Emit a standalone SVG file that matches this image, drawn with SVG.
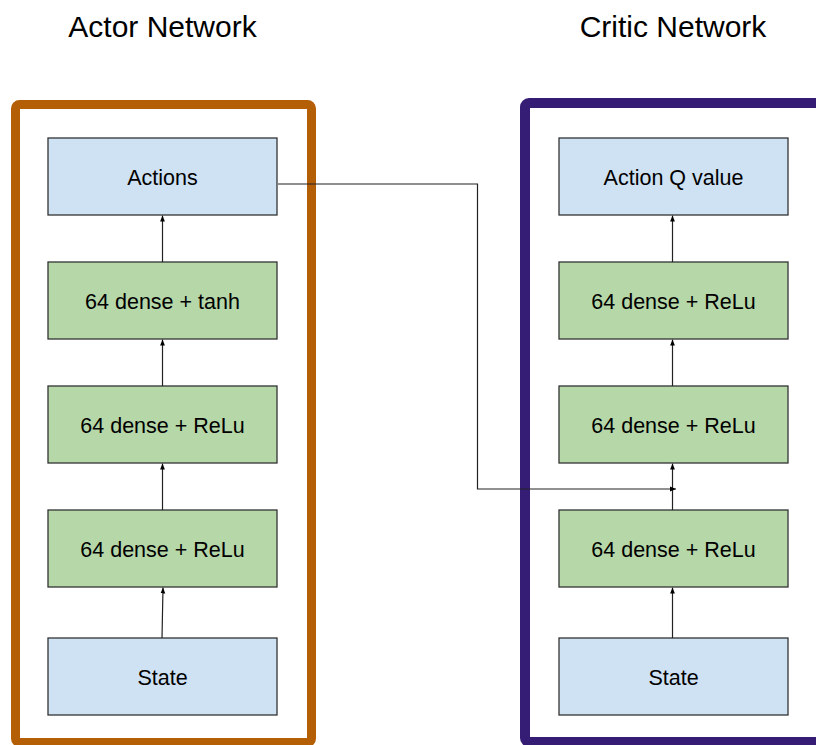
<svg xmlns="http://www.w3.org/2000/svg" width="816" height="745" viewBox="0 0 816 745">
<style>
.title{font-family:"Liberation Sans",Arial,sans-serif;font-size:30px;fill:#000;text-anchor:middle}
.lbl{font-family:"Liberation Sans",Arial,sans-serif;font-size:21.5px;fill:#000;text-anchor:middle}
.blue{fill:#cfe2f3;stroke:#333;stroke-width:1.3}
.green{fill:#b6d7a8;stroke:#333;stroke-width:1.3}
.conn{fill:none;stroke:#222;stroke-width:1.2}
</style>
<defs>
<marker id="ah" viewBox="0 0 10 10" refX="10" refY="5" markerWidth="6" markerHeight="6" markerUnits="userSpaceOnUse" orient="auto">
<path d="M0,1 L10,5 L0,9 Z" fill="#000"/>
</marker>
</defs>
<rect width="816" height="745" fill="#fff"/>
<g id="titles">
<text class="title" x="162.5" y="37">Actor Network</text>
<text class="title" x="673" y="37">Critic Network</text>
</g>
<g id="actor-frame"><rect x="15.5" y="104.5" width="296" height="638" rx="4" fill="none" stroke="#b45f06" stroke-width="9"/></g>
<g id="critic-frame"><rect x="525" y="103" width="320" height="639" rx="4" fill="none" stroke="#351c75" stroke-width="10"/></g>
<g id="a-actions"><rect class="blue" x="48" y="138" width="229" height="77"/><text class="lbl" x="162.5" y="184.5">Actions</text></g>
<g id="a-tanh"><rect class="green" x="48" y="262" width="229" height="77"/><text class="lbl" x="162.5" y="308.5">64 dense + tanh</text></g>
<g id="a-relu2"><rect class="green" x="48" y="386" width="229" height="77"/><text class="lbl" x="162.5" y="432.5">64 dense + ReLu</text></g>
<g id="a-relu1"><rect class="green" x="48" y="510" width="229" height="77"/><text class="lbl" x="162.5" y="556.5">64 dense + ReLu</text></g>
<g id="a-state"><rect class="blue" x="48" y="638" width="229" height="77"/><text class="lbl" x="162.5" y="684.5">State</text></g>
<g id="c-q"><rect class="blue" x="559" y="138" width="229" height="77"/><text class="lbl" x="673.5" y="184.5">Action Q value</text></g>
<g id="c-relu3"><rect class="green" x="559" y="262" width="229" height="77"/><text class="lbl" x="673.5" y="308.5">64 dense + ReLu</text></g>
<g id="c-relu2"><rect class="green" x="559" y="386" width="229" height="77"/><text class="lbl" x="673.5" y="432.5">64 dense + ReLu</text></g>
<g id="c-relu1"><rect class="green" x="559" y="510" width="229" height="77"/><text class="lbl" x="673.5" y="556.5">64 dense + ReLu</text></g>
<g id="c-state"><rect class="blue" x="559" y="638" width="229" height="77"/><text class="lbl" x="673.5" y="684.5">State</text></g>
<g id="connectors">
<path class="conn" d="M162.5,262 V215.5" marker-end="url(#ah)"/>
<path class="conn" d="M162.5,386 V339.5" marker-end="url(#ah)"/>
<path class="conn" d="M162.5,510 V463.5" marker-end="url(#ah)"/>
<path class="conn" d="M162,638 L163,587.5" marker-end="url(#ah)"/>
<path class="conn" d="M672.5,262 V215.5" marker-end="url(#ah)"/>
<path class="conn" d="M672.5,386 V339.5" marker-end="url(#ah)"/>
<path class="conn" d="M672.5,510 V463.5" marker-end="url(#ah)"/>
<path class="conn" d="M672.5,638 V587.5" marker-end="url(#ah)"/>
<path class="conn" d="M278,184 H477.5 V489 H676" marker-end="url(#ah)"/>
</g>
</svg>
